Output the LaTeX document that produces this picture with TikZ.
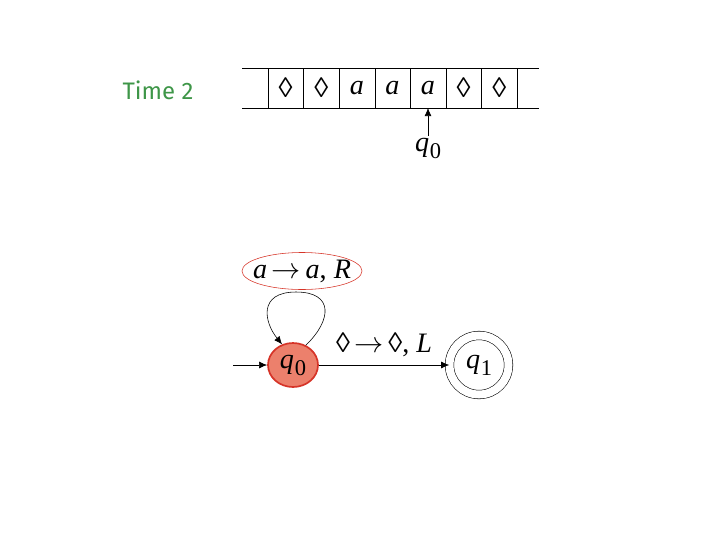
\documentclass[tikz,border=0pt]{standalone}
\usepackage{fontspec}
\setmainfont{Liberation Serif}
\newfontfamily\timefont{Fira Sans}
\usetikzlibrary{arrows.meta, positioning, shapes.geometric}
\definecolor{timegreen}{RGB}{62,150,72}
\definecolor{statefill}{RGB}{236,128,108}
\definecolor{stateline}{RGB}{214,52,40}
\newcommand{\qstate}[1]{\textit{q}\kern0.5pt{\fontsize{16}{18}\selectfont\raisebox{-5pt}{#1}}}
\newcommand{\tto}{\,$\rightarrow$\,}
\tikzset{
    big/.style={font=\fontsize{20}{23}\selectfont},
    arr/.style={-{Latex[length=2mm, width=1.7mm]}, thin},
    cellbox/.style={minimum width=35.5*0.025cm, minimum height=40*0.025cm, inner sep=0pt, big}
}

\begin{document}
\begin{tikzpicture}[x=0.025cm, y=-0.025cm]
            \useasboundingbox (0,0) rectangle (720,540);
            % time label
            \node[text=timegreen, font=\timefont\fontsize{17}{20}\selectfont] (time) at (158,90) {Time 2};
            % tape
            \draw (242,68) -- (539,68);
            \draw (242,108) -- (539,108);
            \foreach \s [count=\i] in {◊, ◊, \textit{a}, \textit{a}, \textit{a}, ◊, ◊}
                \node[cellbox] (c\i) at (250+\i*35.6,88) {\s};
            \foreach \x in {0,...,7}
                \draw (268+\x*35.6,68) -- (268+\x*35.6,108);
            % head
            \node[big, inner sep=1pt] (head) at (428,148) {\qstate0};
            \draw[arr] (head.north) -- (428,108);
            % states
            \node[ellipse, draw=stateline, very thick, fill=statefill, minimum width=50*0.025cm, minimum height=44*0.025cm, inner sep=0pt, big] (q0) at (293,365) {\qstate0};
            \node[circle, draw, double, double distance=5.7pt, minimum size=59*0.025cm, inner sep=0pt, big] (q1) at (479,365) {\qstate1};
            \coordinate (start) at (233,365);
            \draw[arr] (start) -- (q0);
            \draw[arr] (q0.east) -- node[above=2pt, big] (move) {◊\tto◊, \textit{L}} (q1.west);
            % self loop
            \node[big] (loop) at (302,271) {\textit{a}\tto\textit{a}, \textit{R}};
            \draw[stateline, thin] (loop) ellipse [x radius=60, y radius=18.5];
            \draw[arr] (q0.57) .. controls (332,320) and (334,292) .. (296,292)
                .. controls (258,292) and (264,322) .. (q0.118);
        \end{tikzpicture}
\end{document}
